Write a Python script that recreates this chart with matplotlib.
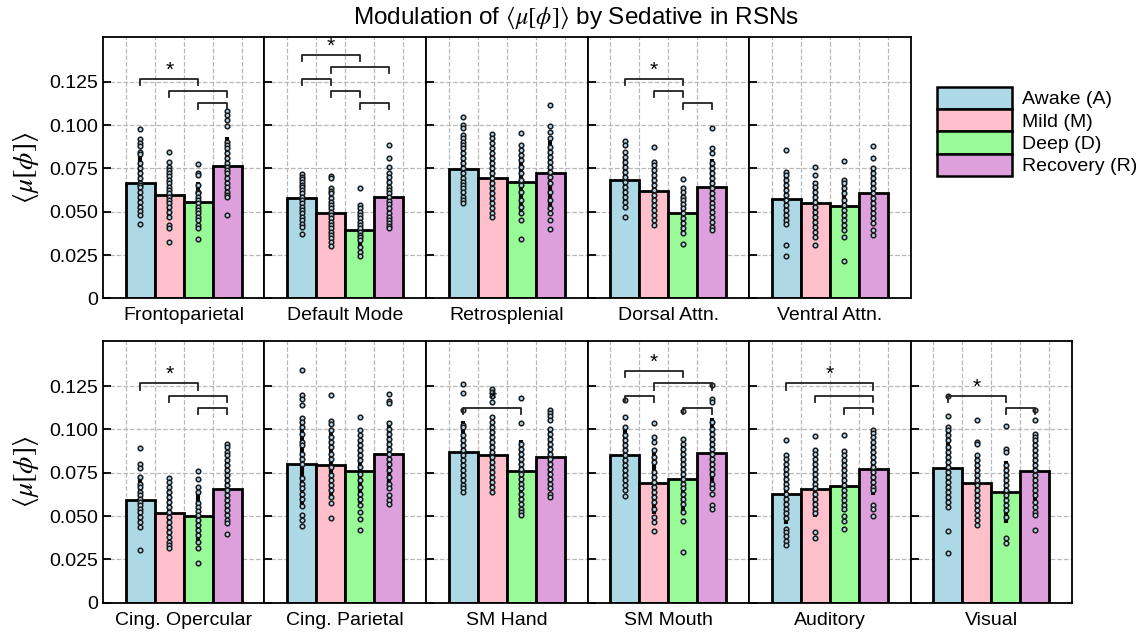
import numpy as np
import matplotlib
matplotlib.use("Agg")
import matplotlib.pyplot as plt
from matplotlib.patches import Patch

plt.rcParams['font.family'] = ['Liberation Sans', 'DejaVu Sans']
plt.rcParams['mathtext.fontset'] = 'stix'

conditions = ['Awake (A)', 'Mild (M)', 'Deep (D)', 'Recovery (R)']
colors = ['lightblue', 'pink', 'palegreen', 'plum']

networks = ['Frontoparietal', 'Default Mode', 'Retrosplenial', 'Dorsal Attn.', 'Ventral Attn.',
            'Cing. Opercular', 'Cing. Parietal', 'SM Hand', 'SM Mouth', 'Auditory', 'Visual']

# bar heights (group means)
means = [
    [0.0667, 0.0594, 0.0554, 0.0763],
    [0.0579, 0.0490, 0.0394, 0.0583],
    [0.0744, 0.0692, 0.0669, 0.0725],
    [0.0683, 0.0621, 0.0490, 0.0644],
    [0.0573, 0.0548, 0.0533, 0.0606],
    [0.0591, 0.0520, 0.0499, 0.0657],
    [0.0803, 0.0797, 0.0760, 0.0856],
    [0.0870, 0.0851, 0.0758, 0.0841],
    [0.0854, 0.0691, 0.0716, 0.0864],
    [0.0630, 0.0655, 0.0674, 0.0772],
    [0.0778, 0.0691, 0.0639, 0.0758],
]

# individual subject values (A, M, D, R) per network
fp_pts = [
    [0.0975, 0.0917, 0.0898, 0.0879, 0.0846, 0.0833, 0.0779, 0.075, 0.0721, 0.0692, 0.0667, 0.0654, 0.064, 0.0615, 0.0587, 0.0558, 0.0529, 0.0506, 0.0481, 0.0427],
    [0.0842, 0.0788, 0.0760, 0.0740, 0.0725, 0.0706, 0.0683, 0.0663, 0.0644, 0.0625, 0.0606, 0.0587, 0.0567, 0.0548, 0.0529, 0.0500, 0.0471, 0.0423, 0.0404, 0.0327],
    [0.0773, 0.0725, 0.0712, 0.0654, 0.0615, 0.0606, 0.0587, 0.0567, 0.0548, 0.0529, 0.0510, 0.0490, 0.0471, 0.0452, 0.0423, 0.0404, 0.0340],
    [0.1081, 0.1058, 0.1029, 0.0996, 0.0904, 0.0885, 0.0865, 0.0837, 0.0808, 0.0779, 0.0760, 0.0740, 0.0721, 0.0692, 0.0663, 0.0644, 0.0615, 0.0596, 0.0583, 0.0481],
]
dm_pts = [
    [0.0717, 0.0702, 0.0687, 0.0671, 0.0654, 0.0640, 0.0625, 0.0606, 0.0587, 0.0567, 0.0548, 0.0529, 0.0510, 0.0490, 0.0471, 0.0452, 0.0429, 0.0413, 0.0369],
    [0.0706, 0.0692, 0.0635, 0.0621, 0.0606, 0.0577, 0.0558, 0.0538, 0.0519, 0.0500, 0.0481, 0.0462, 0.0442, 0.0423, 0.0404, 0.0385, 0.0365, 0.0346, 0.0327, 0.0304],
    [0.0638, 0.0538, 0.0519, 0.0500, 0.0481, 0.0462, 0.0442, 0.0423, 0.0404, 0.0385, 0.0365, 0.0352, 0.0337, 0.0298, 0.0265, 0.0246],
    [0.0885, 0.0808, 0.0760, 0.0721, 0.0702, 0.0673, 0.0644, 0.0625, 0.0606, 0.0583, 0.0563, 0.0544, 0.0519, 0.0490, 0.0471, 0.0452, 0.0433, 0.0417, 0.0404],
]
rs_pts = [
    [0.1048, 0.1000, 0.0985, 0.0942, 0.0923, 0.0904, 0.0885, 0.0865, 0.0837, 0.0808, 0.0779, 0.0750, 0.0721, 0.0692, 0.0673, 0.0654, 0.0635, 0.0615, 0.0587, 0.0567, 0.0552],
    [0.0946, 0.0923, 0.0894, 0.0865, 0.0837, 0.0808, 0.0779, 0.0750, 0.0721, 0.0692, 0.0663, 0.0635, 0.0606, 0.0577, 0.0548, 0.0519, 0.0490, 0.0471],
    [0.0952, 0.0885, 0.0856, 0.0827, 0.0798, 0.0760, 0.0721, 0.0683, 0.0654, 0.0615, 0.0567, 0.0529, 0.0490, 0.0452, 0.0344],
    [0.1115, 0.0996, 0.0962, 0.0923, 0.0875, 0.0846, 0.0817, 0.0788, 0.0760, 0.0731, 0.0702, 0.0663, 0.0615, 0.0567, 0.0519, 0.0490, 0.0452, 0.0398],
]
da_pts = [
    [0.0908, 0.0885, 0.0846, 0.0817, 0.0788, 0.0760, 0.0731, 0.0702, 0.0673, 0.0644, 0.0615, 0.0587, 0.0558, 0.0529, 0.0467],
    [0.0871, 0.0788, 0.0769, 0.0740, 0.0712, 0.0683, 0.0654, 0.0625, 0.0596, 0.0567, 0.0538, 0.0510, 0.0481, 0.0452, 0.0423],
    [0.0688, 0.0635, 0.0615, 0.0587, 0.0567, 0.0544, 0.0519, 0.0490, 0.0462, 0.0433, 0.0404, 0.0375, 0.0313],
    [0.0981, 0.0865, 0.0837, 0.0779, 0.0750, 0.0721, 0.0692, 0.0663, 0.0635, 0.0606, 0.0577, 0.0548, 0.0529, 0.0500, 0.0471, 0.0442, 0.0413, 0.0394],
]
va_pts = [
    [0.0858, 0.0731, 0.0712, 0.0683, 0.0654, 0.0625, 0.0596, 0.0567, 0.0538, 0.0510, 0.0481, 0.0452, 0.0429, 0.0308, 0.0242],
    [0.0756, 0.0712, 0.0663, 0.0644, 0.0615, 0.0587, 0.0558, 0.0529, 0.0500, 0.0471, 0.0442, 0.0413, 0.0385, 0.0356, 0.0308],
    [0.0794, 0.0683, 0.0663, 0.0635, 0.0606, 0.0567, 0.0538, 0.0510, 0.0481, 0.0452, 0.0423, 0.0394, 0.0352, 0.0217],
    [0.0879, 0.0808, 0.0750, 0.0721, 0.0692, 0.0663, 0.0635, 0.0606, 0.0577, 0.0548, 0.0519, 0.0490, 0.0462, 0.0433, 0.0394, 0.0365],
]
co_pts = [
    [0.0893, 0.0799, 0.0780, 0.0726, 0.0687, 0.0668, 0.0639, 0.0620, 0.0601, 0.0582, 0.0563, 0.0543, 0.0524, 0.0495, 0.0466, 0.0438, 0.0303],
    [0.0720, 0.0697, 0.0668, 0.0639, 0.0611, 0.0582, 0.0553, 0.0524, 0.0495, 0.0466, 0.0438, 0.0409, 0.0380, 0.0351, 0.0332, 0.0317],
    [0.0760, 0.0716, 0.0668, 0.0639, 0.0576, 0.0553, 0.0530, 0.0505, 0.0476, 0.0447, 0.0418, 0.0390, 0.0351, 0.0313, 0.0230],
    [0.0918, 0.0899, 0.0870, 0.0851, 0.0822, 0.0793, 0.0764, 0.0735, 0.0707, 0.0678, 0.0649, 0.0620, 0.0591, 0.0563, 0.0534, 0.0505, 0.0476, 0.0457, 0.0399],
]
cp_pts = [
    [0.1340, 0.1196, 0.1177, 0.1138, 0.1066, 0.1043, 0.1014, 0.0975, 0.0927, 0.0908, 0.0860, 0.0831, 0.0803, 0.0717, 0.0687, 0.0659, 0.0630, 0.0601, 0.0557, 0.0505, 0.0476, 0.0444],
    [0.1196, 0.1046, 0.1029, 0.0995, 0.0956, 0.0927, 0.0899, 0.0860, 0.0831, 0.0783, 0.0735, 0.0707, 0.0678, 0.0649, 0.0611, 0.0576, 0.0488],
    [0.1071, 0.0998, 0.0966, 0.0937, 0.0908, 0.0879, 0.0851, 0.0822, 0.0783, 0.0745, 0.0707, 0.0668, 0.0630, 0.0601, 0.0563, 0.0524, 0.0480, 0.0422],
    [0.1202, 0.1162, 0.1152, 0.1039, 0.1004, 0.0975, 0.0947, 0.0918, 0.0889, 0.0860, 0.0831, 0.0803, 0.0764, 0.0726, 0.0687, 0.0659, 0.0620, 0.0591, 0.0572],
]
smh_pts = [
    [0.1263, 0.1210, 0.1114, 0.1023, 0.1014, 0.0966, 0.0937, 0.0908, 0.0879, 0.0851, 0.0822, 0.0793, 0.0764, 0.0735, 0.0707, 0.0678, 0.0659, 0.0639],
    [0.1235, 0.1215, 0.1190, 0.1158, 0.1071, 0.1043, 0.1014, 0.0985, 0.0956, 0.0927, 0.0899, 0.0870, 0.0841, 0.0812, 0.0783, 0.0755, 0.0726, 0.0697, 0.0668, 0.0636],
    [0.1183, 0.1037, 0.0918, 0.0889, 0.0860, 0.0831, 0.0803, 0.0774, 0.0745, 0.0716, 0.0687, 0.0659, 0.0630, 0.0601, 0.0572, 0.0543, 0.0524, 0.0505],
    [0.1114, 0.1094, 0.1075, 0.1052, 0.1004, 0.0975, 0.0947, 0.0918, 0.0889, 0.0860, 0.0831, 0.0803, 0.0774, 0.0745, 0.0716, 0.0687, 0.0659, 0.0630, 0.0611],
]
smm_pts = [
    [0.1167, 0.1071, 0.1014, 0.0966, 0.0937, 0.0908, 0.0879, 0.0851, 0.0822, 0.0793, 0.0764, 0.0735, 0.0707, 0.0678, 0.0649, 0.0614],
    [0.1039, 0.0956, 0.0927, 0.0879, 0.0841, 0.0812, 0.0755, 0.0726, 0.0697, 0.0668, 0.0639, 0.0611, 0.0582, 0.0543, 0.0495, 0.0466, 0.0413],
    [0.1106, 0.0947, 0.0918, 0.0889, 0.0860, 0.0831, 0.0803, 0.0774, 0.0745, 0.0716, 0.0687, 0.0659, 0.0630, 0.0601, 0.0572, 0.0524, 0.0470, 0.0292],
    [0.1254, 0.1177, 0.1158, 0.1043, 0.1004, 0.0975, 0.0947, 0.0918, 0.0889, 0.0860, 0.0831, 0.0803, 0.0774, 0.0745, 0.0687, 0.0659, 0.0630, 0.0563, 0.0538],
]
au_pts = [
    [0.0937, 0.0851, 0.0831, 0.0803, 0.0774, 0.0745, 0.0716, 0.0687, 0.0659, 0.0630, 0.0601, 0.0572, 0.0543, 0.0515, 0.0486, 0.0428, 0.0409, 0.0384, 0.0357, 0.0330],
    [0.0962, 0.0883, 0.0860, 0.0831, 0.0803, 0.0774, 0.0745, 0.0716, 0.0687, 0.0659, 0.0630, 0.0601, 0.0572, 0.0543, 0.0515, 0.0409, 0.0376],
    [0.0970, 0.0874, 0.0854, 0.0826, 0.0797, 0.0768, 0.0739, 0.0710, 0.0681, 0.0653, 0.0624, 0.0595, 0.0566, 0.0538, 0.0499, 0.0470, 0.0426],
    [0.0998, 0.0979, 0.0956, 0.0927, 0.0899, 0.0870, 0.0841, 0.0812, 0.0783, 0.0755, 0.0726, 0.0697, 0.0668, 0.0649, 0.0563, 0.0538, 0.0503],
]
vis_pts = [
    [0.1190, 0.1075, 0.1014, 0.0995, 0.0966, 0.0937, 0.0899, 0.0870, 0.0841, 0.0812, 0.0783, 0.0755, 0.0726, 0.0697, 0.0668, 0.0639, 0.0611, 0.0582, 0.0553, 0.0415, 0.0288],
    [0.1052, 0.0927, 0.0914, 0.0851, 0.0822, 0.0793, 0.0764, 0.0735, 0.0707, 0.0678, 0.0649, 0.0620, 0.0591, 0.0563, 0.0534, 0.0505, 0.0476, 0.0447],
    [0.1020, 0.0889, 0.0870, 0.0793, 0.0764, 0.0735, 0.0707, 0.0678, 0.0649, 0.0620, 0.0591, 0.0563, 0.0534, 0.0495, 0.0371, 0.0346],
    [0.1114, 0.1052, 0.0975, 0.0956, 0.0937, 0.0908, 0.0879, 0.0851, 0.0822, 0.0793, 0.0764, 0.0735, 0.0707, 0.0678, 0.0649, 0.0620, 0.0582, 0.0553, 0.0524, 0.0505, 0.0422],
]
points = [fp_pts, dm_pts, rs_pts, da_pts, va_pts, co_pts, cp_pts, smh_pts, smm_pts, au_pts, vis_pts]

# significance brackets: (cond i, cond j, stack level, star)
brackets = [
    [(0, 2, 2, True), (1, 3, 1, False), (2, 3, 0, False)],
    [(0, 2, 4, True), (1, 3, 3, False), (0, 1, 2, False), (1, 2, 1, False), (2, 3, 0, False)],
    [],
    [(0, 2, 2, True), (1, 2, 1, False), (2, 3, 0, False)],
    [],
    [(0, 2, 2, True), (1, 3, 1, False), (2, 3, 0, False)],
    [],
    [(0, 2, 0, True)],
    [(0, 2, 3, True), (1, 3, 2, False), (0, 1, 1, False), (2, 3, 0, False)],
    [(0, 3, 2, True), (1, 3, 1, False), (2, 3, 0, False)],
    [(0, 2, 1, True), (2, 3, 0, False)],
]

yticks = [0, 0.025, 0.05, 0.075, 0.1, 0.125]
ytick_labels = ['0', '0.025', '0.050', '0.075', '0.100', '0.125']

fig = plt.figure(figsize=(11.48, 6.33), dpi=100)

left = 0.0897
pw = 0.1407
rows = [(0.5287, 0.4133), (0.0479, 0.4134)]
ylab = r'$\langle\mu[\phi]\rangle$'

for n, name in enumerate(networks):
    if n < 5:
        r, c = 0, n
    else:
        r, c = 1, n - 5
    bottom, h = rows[r]
    ax = fig.add_axes([left + c * pw, bottom, pw, h])
    ax.set_axisbelow(True)
    x = np.arange(4)
    ax.bar(x, means[n], width=1.0, color=colors, edgecolor='black', linewidth=2.0, zorder=2)
    errs = [np.std(p) for p in points[n]]
    ax.errorbar(x, means[n], yerr=errs, fmt='none', ecolor='black', elinewidth=3.0, capsize=0, zorder=3)
    for k in range(4):
        ax.plot(np.full(len(points[n][k]), x[k]), points[n][k], 'o', ms=3.3, mfc='#b5d3e6',
                mec='#1a1a1a', mew=1.1, zorder=4)

    for (i, j, lev, star) in brackets[n]:
        yb = 0.1125 + 0.0070 * lev
        ax.plot([i, i, j, j], [yb - 0.0035, yb, yb, yb - 0.0035], color='#222222', lw=1.3, zorder=5)
        if star:
            ax.text((i + j) / 2, yb + 0.0050, '*', ha='center', va='center', fontsize=15, zorder=6)

    ax.set_xlim(-1.28, 4.28)
    ax.set_ylim(0, 0.151)
    ax.set_xticks([-0.5, 0.5, 1.5, 2.5, 3.5])
    ax.set_xticklabels([])
    ax.tick_params(axis='x', length=0)
    ax.set_yticks(yticks)
    ax.tick_params(axis='y', direction='in', length=6, width=1.3, labelsize=14)
    if c == 0:
        ax.set_yticklabels(ytick_labels)
        ax.set_ylabel(ylab, fontsize=20, labelpad=6)
    else:
        ax.set_yticklabels([])
    ax.grid(True, linestyle='--', color='#b8b8b8', linewidth=0.9)
    for s in ax.spines.values():
        s.set_linewidth(1.3)
    ax.set_xlabel(name, fontsize=14, labelpad=3)

fig.suptitle(r'Modulation of $\langle\mu[\phi]\rangle$ by Sedative in RSNs', x=0.502, y=0.972,
             va='center', fontsize=17.5)

handles = [Patch(facecolor=col, edgecolor='black', linewidth=1.8, label=lab) for col, lab in zip(colors, conditions)]
fig.legend(handles=handles, loc='upper left', bbox_to_anchor=(0.8165, 0.863), frameon=False,
           fontsize=14, labelspacing=0.0, handleheight=1.39, handlelength=3.86, handletextpad=0.5,
           borderpad=0, borderaxespad=0)

fig.savefig('out.png', dpi=100)
